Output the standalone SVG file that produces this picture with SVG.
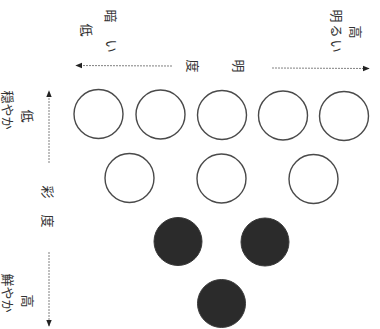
<svg xmlns="http://www.w3.org/2000/svg" width="380" height="329" viewBox="0 0 380 329">
<style>
.c{fill:#ffffff;stroke:#4a4a4a;stroke-width:1.4}
.d{fill:#2b2b2b;stroke:#3a3a3a;stroke-width:1}
.ax{stroke:#808080;stroke-width:1;stroke-dasharray:2 1;fill:none}
.t{font-family:"Noto Sans CJK JP","Noto Sans CJK SC",sans-serif;font-size:13px;fill:#333;dominant-baseline:central;text-anchor:middle}
</style>
<defs>
<marker id="ah" viewBox="0 0 10 10" refX="9" refY="5" markerWidth="7" markerHeight="7" orient="auto" markerUnits="userSpaceOnUse">
<path d="M0,1 L10,5 L0,9 Z" fill="#222"/>
</marker>
</defs>
<rect width="380" height="329" fill="#ffffff"/>
<g id="connectors">
<line class="ax" x1="172" y1="66" x2="76" y2="65.5" marker-end="url(#ah)"/>
<line class="ax" x1="272" y1="68" x2="369" y2="68.5" marker-end="url(#ah)"/>
<line class="ax" x1="49" y1="163" x2="49" y2="91" marker-end="url(#ah)"/>
<line class="ax" x1="49" y1="252" x2="49" y2="326" marker-end="url(#ah)"/>
</g>
<g id="labels">
<text class="t" transform="translate(356,32) rotate(90)">高</text>
<text class="t" transform="translate(337,32) rotate(90)" letter-spacing="2">明るい</text>
<text class="t" transform="translate(111,16) rotate(90)">暗</text>
<text class="t" transform="translate(112,46) rotate(90)">い</text>
<text class="t" transform="translate(87,30) rotate(90)">低</text>
<text class="t" transform="translate(239,66) rotate(90)">明</text>
<text class="t" transform="translate(193,66) rotate(90)">度</text>
<text class="t" transform="translate(48,192) rotate(90)">彩</text>
<text class="t" transform="translate(48,221) rotate(90)">度</text>
<text class="t" transform="translate(28,116) rotate(90)">低</text>
<text class="t" transform="translate(8,110) rotate(90)">穏やか</text>
<text class="t" transform="translate(28,301) rotate(90)">高</text>
<text class="t" transform="translate(8,293) rotate(90)">鮮やか</text>
</g>
<g id="n1"><circle class="c" cx="98.5" cy="114" r="24.5"/></g>
<g id="n2"><circle class="c" cx="160.5" cy="114.5" r="24.5"/></g>
<g id="n3"><circle class="c" cx="222" cy="115" r="24.5"/></g>
<g id="n4"><circle class="c" cx="283" cy="115.5" r="24.5"/></g>
<g id="n5"><circle class="c" cx="344" cy="116" r="24.5"/></g>
<g id="n6"><circle class="c" cx="129.5" cy="178" r="24.5"/></g>
<g id="n7"><circle class="c" cx="221.5" cy="178.5" r="24.5"/></g>
<g id="n8"><circle class="c" cx="313.5" cy="179" r="24.5"/></g>
<g id="n9"><circle class="d" cx="178" cy="241.5" r="24"/></g>
<g id="n10"><circle class="d" cx="265" cy="242" r="24"/></g>
<g id="n11"><circle class="d" cx="221.5" cy="303.5" r="24"/></g>
</svg>
